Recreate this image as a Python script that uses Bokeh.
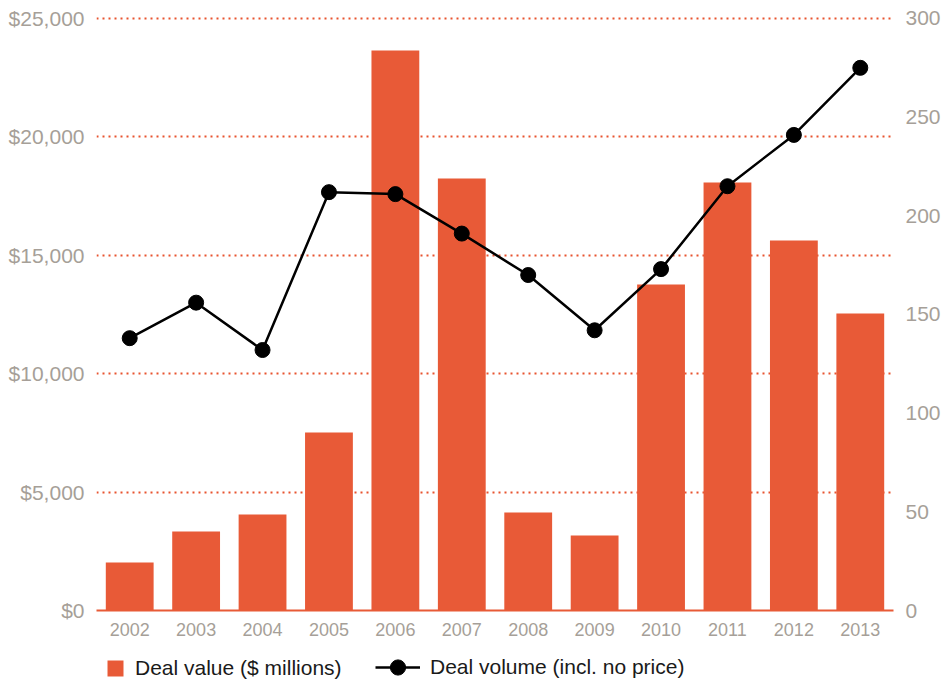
from bokeh.plotting import figure
from bokeh.layouts import column
from bokeh.models import (FactorRange, Range1d, LinearAxis, FixedTicker, NumeralTickFormatter,
                          Legend, LegendItem, ColumnDataSource)
from bokeh.embed import file_html
from bokeh.resources import INLINE

years = ["2002", "2003", "2004", "2005", "2006", "2007", "2008", "2009", "2010", "2011", "2012", "2013"]
deal_value = [2030, 3340, 4050, 7520, 23650, 18240, 4140, 3170, 13770, 18070, 15630, 12540]
deal_volume = [138, 156, 132, 212, 211, 191, 170, 142, 173, 215, 241, 275]
left_ticks = [0, 5000, 10000, 15000, 20000, 25000]
right_ticks = [0, 50, 100, 150, 200, 250, 300]

ORANGE = "#E85A37"
GRAY = "#A69F98"
FONT = "Liberation Sans"

src = ColumnDataSource(dict(year=years, value=deal_value, volume=deal_volume))

p = figure(width=944, height=644, x_range=FactorRange(factors=years),
           y_range=Range1d(0, 25084.5), output_backend="svg", toolbar_location=None,
           min_border_left=96, min_border_right=51, min_border_top=16, min_border_bottom=34)
p.extra_y_ranges = {"vol": Range1d(0, 301.01)}
p.outline_line_color = None
p.background_fill_color = "white"
p.border_fill_color = "white"

p.vbar(x="year", top="value", width=0.72, source=src, fill_color=ORANGE, line_color=None)
p.line(x="year", y="volume", source=src, y_range_name="vol", line_color="black", line_width=2.5)
p.scatter(x="year", y="volume", source=src, y_range_name="vol", size=15,
          fill_color="black", line_color="black")

# grid
p.xgrid.grid_line_color = None
p.ygrid.ticker = FixedTicker(ticks=left_ticks[1:])
p.ygrid.grid_line_color = "#E8532F"
p.ygrid.grid_line_dash = "2 4"
p.ygrid.grid_line_width = 2

# left axis
ya = p.yaxis[0]
ya.ticker = FixedTicker(ticks=left_ticks)
ya.formatter = NumeralTickFormatter(format="$0,0")
ya.axis_line_color = None
ya.major_tick_line_color = None
ya.major_tick_out = 0
ya.major_tick_in = 0
ya.minor_tick_line_color = None
ya.major_label_text_color = GRAY
ya.major_label_text_font = FONT
ya.major_label_text_font_size = "21px"
ya.major_label_standoff = 12

# right axis
ra = LinearAxis(y_range_name="vol", ticker=FixedTicker(ticks=right_ticks))
ra.axis_line_color = None
ra.major_tick_line_color = None
ra.major_tick_out = 0
ra.major_tick_in = 0
ra.minor_tick_line_color = None
ra.major_label_text_color = GRAY
ra.major_label_text_font = FONT
ra.major_label_text_font_size = "21px"
ra.major_label_standoff = 12
p.add_layout(ra, "right")

# bottom axis
xa = p.xaxis[0]
xa.axis_line_color = ORANGE
xa.axis_line_width = 2
xa.major_tick_line_color = None
xa.major_tick_out = 0
xa.major_tick_in = 0
xa.minor_tick_line_color = None
xa.major_label_text_color = GRAY
xa.major_label_text_font = FONT
xa.major_label_text_font_size = "18px"
xa.major_label_standoff = 12

# legend strip (separate figure below the chart; its renderers are hidden, only used for swatches)
lp = figure(width=944, height=40, x_range=FactorRange(factors=years), y_range=Range1d(0, 25084.5),
            output_backend="svg", toolbar_location=None, x_axis_location=None, y_axis_location=None,
            min_border=0, min_border_left=0, min_border_right=0, min_border_top=0, min_border_bottom=0)
lp.outline_line_color = None
lp.xgrid.visible = False
lp.ygrid.visible = False
lp.background_fill_color = "white"
lp.border_fill_color = "white"
lbar = lp.vbar(x="year", top="value", width=0.72, source=src, fill_color=ORANGE, line_color=None,
               visible=False)
lline = lp.line(x="year", y="value", source=src, line_color="black", line_width=2.5, visible=False)
ldot = lp.scatter(x="year", y="value", source=src, size=15, fill_color="black", line_color="black",
                  visible=False)

common = dict(orientation="horizontal", padding=0, margin=0, spacing=0, label_standoff=10,
              background_fill_alpha=0, border_line_color=None,
              label_text_font=FONT, label_text_font_size="21px", label_text_color="#1a1a1a")
leg1 = Legend(items=[LegendItem(label="Deal value ($ millions)", renderers=[lbar])],
              location=(9, 4), glyph_width=20, glyph_height=20, **common)
leg2 = Legend(items=[LegendItem(label="Deal volume (incl. no price)", renderers=[lline, ldot])],
              location=(279, -2), glyph_width=45, glyph_height=38, **common)
lp.add_layout(leg1)
lp.add_layout(leg2)

layout = column(p, lp, spacing=0)
open("out.html", "w").write(file_html(layout, INLINE))
